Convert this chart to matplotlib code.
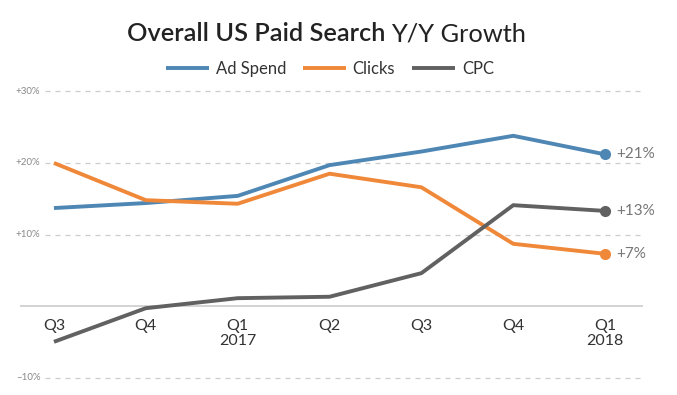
import numpy as np
import matplotlib.pyplot as plt

plt.rcParams['font.family'] = ['Lato', 'DejaVu Sans']

# quarters from Q3 2016 to Q1 2018
quarters = ['Q3', 'Q4', 'Q1\n2017', 'Q2', 'Q3', 'Q4', 'Q1\n2018']
ad_spend = [13.7, 14.4, 15.4, 19.7, 21.6, 23.8, 21.2]
clicks = [20.0, 14.8, 14.3, 18.5, 16.6, 8.7, 7.3]
cpc = [-5.0, -0.3, 1.1, 1.3, 4.6, 14.1, 13.3]
end_labels = ['+21%', '+7%', '+13%']
yticks = [30, 20, 10, -10]
ytick_labels = ['+30%', '+20%', '+10%', '\u201310%']

colors = ['#4e86b4', '#f0883a', '#616161']
names = ['Ad Spend', 'Clicks', 'CPC']

fig = plt.figure(figsize=(6.77, 3.95), dpi=100)
ax = fig.add_axes([0.0295, 0.026, 0.920, 0.7606])
x = np.arange(len(quarters))
x0, x1 = -0.37, 6.41
ax.set_xlim(x0, x1)
ax.set_ylim(-11, 31)
ax.axis('off')

# gridlines and tick labels
for v, lab in zip(yticks, ytick_labels):
    ax.plot([-0.1, x1], [v, v], color='#cccccc', lw=0.9, ls=(0, (4, 4)), zorder=1)
    ax.text(-0.15, v, lab, ha='right', va='center', fontsize=7, color='#888888')
ax.plot([x0, x1], [0, 0], color='#cccccc', lw=1.2, zorder=1)

# category labels
for xi, q in zip(x, quarters):
    ax.text(xi, -1.8, q, ha='center', va='top', fontsize=11.5, color='#333333',
            linespacing=1.1)

series = [ad_spend, clicks, cpc]
for s, c, n, lab in zip(series, colors, names, end_labels):
    ax.plot(x, s, color=c, lw=2.8, label=n, zorder=3, solid_capstyle='butt')
    ax.plot(x[-1], s[-1], 'o', color=c, ms=7, zorder=4)
    ax.text(x[-1] + 0.12, s[-1], lab, ha='left', va='center', fontsize=11,
            color='#777777')

fig.text(0.578, 0.915, 'Overall US Paid Search ', ha='right', va='center',
         fontsize=18.3, fontweight='semibold', color='#222222')
fig.text(0.578, 0.915, 'Y/Y Growth', ha='left', va='center', fontsize=18.3,
         color='#222222')

fig.legend(loc='center', bbox_to_anchor=(0.487, 0.826), ncol=3, frameon=False,
           fontsize=12, handlelength=2.6, handletextpad=0.4, columnspacing=1.0,
           labelcolor='#333333')

fig.savefig('out.png', dpi=100)
